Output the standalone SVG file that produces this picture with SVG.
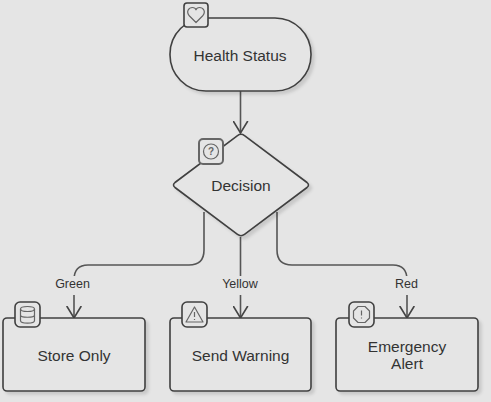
<svg xmlns="http://www.w3.org/2000/svg" width="491" height="402" viewBox="0 0 491 402">
<defs>
<marker id="arrow" markerUnits="userSpaceOnUse" markerWidth="16" markerHeight="16" refX="12.500" refY="8" orient="auto" viewBox="0 0 16 16"><path d="M1 1 L12.500 8 L1 15" fill="none" stroke="#444" stroke-width="1.6" stroke-linecap="round"/></marker>
<filter id="sh" x="-10%" y="-10%" width="125%" height="125%"><feDropShadow dx="3" dy="3" stdDeviation="1.5" flood-color="#000" flood-opacity="0.12"/></filter>
</defs>
<style>
.n{fill:#e5e5e5;stroke:#404040;stroke-width:1.6;filter:url(#sh)}
.b{fill:#e5e5e5;stroke:#404040;stroke-width:1.6}
.i{fill:none;stroke:#666;stroke-width:1.2;stroke-linejoin:round}
.t{font-family:"Liberation Sans",Arial,sans-serif;font-size:15.500px;fill:#333;text-anchor:middle}
.l{font-family:"Liberation Sans",Arial,sans-serif;font-size:12.500px;fill:#333;text-anchor:middle}
.e{fill:none;stroke:#555;stroke-width:1.6}
.lb{fill:#e5e5e5;stroke:none}
</style>
<rect width="491" height="402" fill="#e5e5e5"/>
<g id="connectors">
<path class="e" d="M240.500 91V133" marker-end="url(#arrow)"/>
<path class="e" d="M204 212V250Q204 265 189 265H88Q74 265 74 280V318" marker-end="url(#arrow)"/>
<path class="e" d="M240.500 237V318" marker-end="url(#arrow)"/>
<path class="e" d="M277 212V250Q277 265 292 265H393Q407 265 407 280V318" marker-end="url(#arrow)"/>
<rect class="lb" x="52" y="276" width="40" height="19"/>
<text class="l" x="72.500" y="288">Green</text>
<rect class="lb" x="219" y="276" width="42" height="19"/>
<text class="l" x="240" y="288">Yellow</text>
<rect class="lb" x="393" y="276" width="28" height="19"/>
<text class="l" x="406.500" y="288">Red</text>
</g>
<g id="health">
<rect class="n" x="170" y="18" width="141" height="73" rx="36" ry="36"/>
<rect class="b" x="184" y="3" width="24" height="24" rx="3"/>
<path class="i" d="M196 22.500L189.500 16C185.500 11.500 189 7.500 192.500 7.500C194 7.500 195.500 8.300 196 9.800C196.500 8.300 198 7.500 199.500 7.500C203 7.500 206.500 11.500 202.500 16Z"/>
<text class="t" x="240" y="60.500">Health Status</text>
</g>
<g id="decision">
<path class="n" d="M237.500 135.600Q241 133 244.500 135.600L307 182.500Q310 185 307 187.500L244.500 234.400Q241 237 237.500 234.400L175 187.500Q172 185 175 182.500Z"/>
<rect class="b" x="199" y="139" width="24" height="25" rx="4" style="stroke:#666;stroke-width:2"/>
<circle class="i" cx="211" cy="151.500" r="7.500"/>
<text x="211" y="155" style="font-family:'Liberation Sans',Arial,sans-serif;font-size:10px;font-weight:bold;fill:#666;text-anchor:middle">?</text>
<text class="t" x="241" y="190.500">Decision</text>
</g>
<g id="store">
<rect class="n" x="3" y="318" width="142" height="73" rx="4"/>
<rect class="b" x="15" y="302" width="25" height="25" rx="5"/>
<ellipse class="i" cx="27.500" cy="309" rx="7" ry="2.500"/>
<path class="i" d="M20.500 309V320.500C20.500 324 34.500 324 34.500 320.500V309M20.500 315C20.500 318 34.500 318 34.500 315"/>
<text class="t" x="74" y="360.500">Store Only</text>
</g>
<g id="warning">
<rect class="n" x="170" y="318" width="141" height="73" rx="4"/>
<rect class="b" x="182" y="302" width="25" height="25" rx="5"/>
<path class="i" d="M194.500 307L203 322H186Z"/>
<path class="i" d="M194.500 312V317M194.500 319V320"/>
<text class="t" x="240.500" y="360.500">Send Warning</text>
</g>
<g id="emergency">
<rect class="n" x="336" y="318" width="142" height="73" rx="4"/>
<rect class="b" x="349" y="302" width="25" height="25" rx="5"/>
<path class="i" d="M358 306.500H365L369.500 311V318L365 322.500H358L353.500 318V311Z"/>
<path class="i" d="M361.500 310.500V315.500M361.500 317.500V318.500"/>
<text class="t" x="407" y="351.500">Emergency</text>
<text class="t" x="407" y="369">Alert</text>
</g>
</svg>
